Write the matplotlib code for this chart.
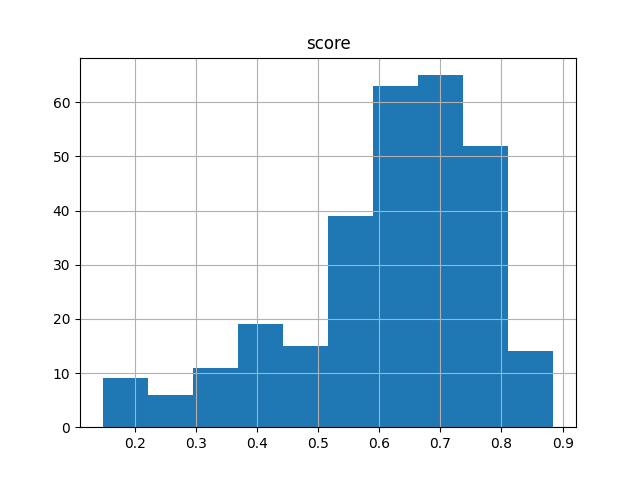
import matplotlib
matplotlib.use("Agg")
import matplotlib.pyplot as plt
import numpy as np

# Histogram of "score": bin edges and counts
bin_edges = [0.1475, 0.2213, 0.2950, 0.3688, 0.4425, 0.5163, 0.5900, 0.6638, 0.7375, 0.8113, 0.8850]
counts = [9, 6, 11, 19, 15, 39, 63, 65, 52, 14]
title = "score"

fig, ax = plt.subplots(figsize=(6.4, 4.8), dpi=100)
edges = np.array(bin_edges)
centers = (edges[:-1] + edges[1:]) / 2
ax.hist(centers, bins=edges, weights=counts, color="#1f77b4")
ax.grid(True)
ax.set_title(title)
fig.savefig("out.png")
